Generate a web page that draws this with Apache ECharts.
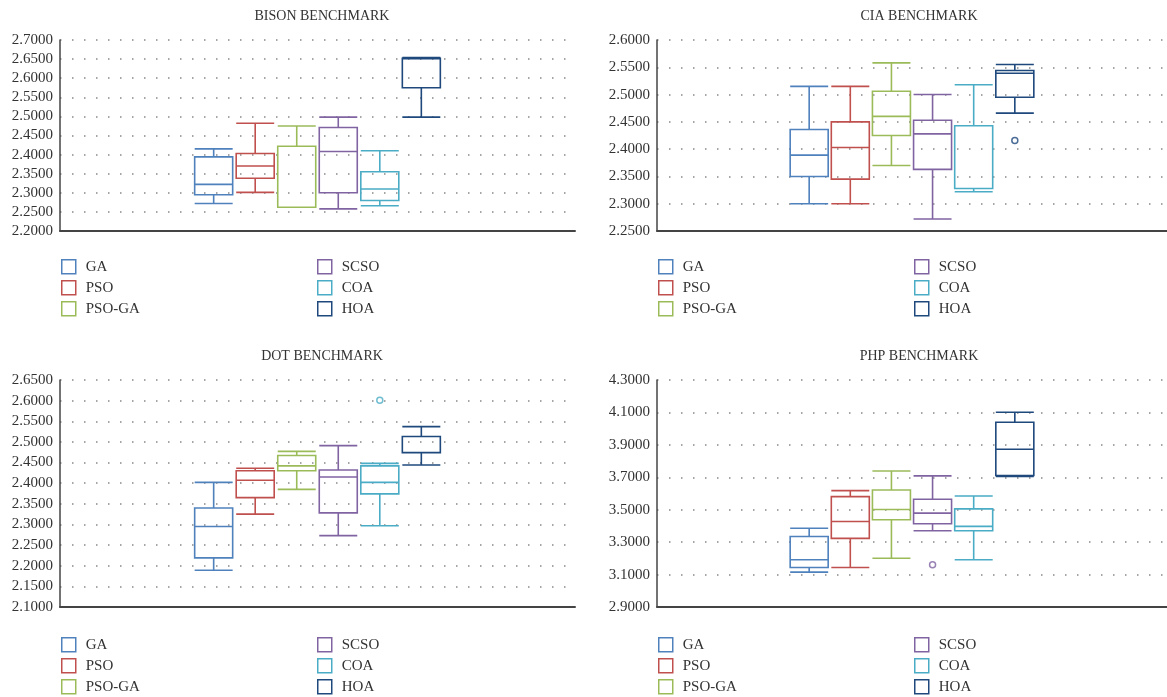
<!DOCTYPE html>
<html>
<head>
<meta charset="utf-8">
<title>Benchmark boxplots</title>
<script src="https://cdn.jsdelivr.net/npm/echarts@6.0.0/dist/echarts.min.js"></script>
<style>
  html, body { margin: 0; padding: 0; background: #fff; }
  #main { width: 1167px; height: 697px; }
</style>
</head>
<body>
<div id="main"></div>
<script>
var algorithms = ['GA', 'PSO', 'PSO-GA', 'SCSO', 'COA', 'HOA']

// each row: [min, Q1, median, Q3, max], in the order of algorithms
var bison = [
  [2.272, 2.295, 2.322, 2.394, 2.415],
  [2.301, 2.338, 2.370, 2.403, 2.482],
  [2.262, 2.262, 2.262, 2.422, 2.475],
  [2.258, 2.300, 2.408, 2.471, 2.498],
  [2.266, 2.280, 2.310, 2.355, 2.410],
  [2.498, 2.575, 2.651, 2.652, 2.654]
]
var bisonOutliers = []
var bisonTicks = [2.2, 2.7, 0.05]

var cia = [
  [2.300, 2.350, 2.389, 2.436, 2.515],
  [2.300, 2.345, 2.403, 2.450, 2.515],
  [2.370, 2.425, 2.460, 2.506, 2.558],
  [2.272, 2.363, 2.428, 2.453, 2.500],
  [2.322, 2.328, 2.328, 2.443, 2.518],
  [2.466, 2.495, 2.539, 2.544, 2.555]
]
var ciaOutliers = [['HOA', 2.416]]
var ciaTicks = [2.25, 2.6, 0.05]

var dot = [
  [2.189, 2.219, 2.295, 2.340, 2.402],
  [2.325, 2.365, 2.407, 2.430, 2.436],
  [2.385, 2.430, 2.442, 2.467, 2.477],
  [2.273, 2.328, 2.415, 2.432, 2.491],
  [2.297, 2.374, 2.402, 2.442, 2.448],
  [2.444, 2.474, 2.513, 2.513, 2.537]
]
var dotOutliers = [['COA', 2.601]]
var dotTicks = [2.1, 2.65, 0.05]

var php = [
  [3.115, 3.144, 3.191, 3.335, 3.386],
  [3.144, 3.323, 3.427, 3.581, 3.618],
  [3.201, 3.438, 3.501, 3.622, 3.739],
  [3.370, 3.413, 3.479, 3.565, 3.709],
  [3.191, 3.370, 3.397, 3.505, 3.585],
  [3.705, 3.711, 3.873, 4.039, 4.101]
]
var phpOutliers = [['SCSO', 3.160]]
var phpTicks = [2.9, 4.3, 0.2]

var colors = ['#4f81bd', '#c0504d', '#9bbb59', '#8064a2', '#4bacc6', '#1f497d']
var font = 'Liberation Serif'

var panels = [
  { title: 'BISON BENCHMARK', boxes: bison, outliers: bisonOutliers, ticks: bisonTicks, left: 60, top: 40, height: 191, legendTop: 259 },
  { title: 'CIA BENCHMARK', boxes: cia, outliers: ciaOutliers, ticks: ciaTicks, left: 657, top: 40, height: 191, legendTop: 259 },
  { title: 'DOT BENCHMARK', boxes: dot, outliers: dotOutliers, ticks: dotTicks, left: 60, top: 380, height: 227, legendTop: 637 },
  { title: 'PHP BENCHMARK', boxes: php, outliers: phpOutliers, ticks: phpTicks, left: 657, top: 380, height: 227, legendTop: 637 }
]

var option = {
  animation: false,
  backgroundColor: '#fff',
  title: [],
  grid: [],
  xAxis: [],
  yAxis: [],
  legend: [],
  series: []
}

panels.forEach(function(p, k) {
  option.title.push({
    text: p.title,
    left: p.left + 257,
    top: p.top - 36,
    textAlign: 'center',
    textStyle: { fontFamily: font, fontSize: 14, fontWeight: 'normal', color: '#333' }
  })
  option.grid.push({ left: p.left, top: p.top, width: 515, height: p.height })
  // boxes sit at x = 1..6, the axis range leaves empty room on both sides
  option.xAxis.push({
    type: 'value',
    gridIndex: k,
    min: -2.7,
    max: 9.7,
    axisLine: { show: true, onZero: false, lineStyle: { color: '#444', width: 2 } },
    axisTick: { show: false },
    axisLabel: { show: false },
    splitLine: { show: false }
  })
  option.yAxis.push({
    type: 'value',
    gridIndex: k,
    min: p.ticks[0],
    max: p.ticks[1],
    interval: p.ticks[2],
    axisLine: { show: true, onZero: false, lineStyle: { color: '#444', width: 1.5 } },
    axisTick: { show: false },
    axisLabel: {
      fontFamily: font,
      fontSize: 15,
      color: '#333',
      margin: 7,
      formatter: function(v) { return v.toFixed(4) }
    },
    splitLine: { lineStyle: { color: '#888', width: 1.5, type: [1.5, 10.5] } }
  })
  option.series.push({
    type: 'boxplot',
    name: p.title,
    xAxisIndex: k,
    yAxisIndex: k,
    boxWidth: [38, 38],
    emphasis: { disabled: true },
    itemStyle: { color: 'rgba(0,0,0,0)', borderWidth: 1.6 },
    data: p.boxes.map(function(b, i) {
      return { value: [i + 1].concat(b), itemStyle: { borderColor: colors[i] } }
    })
  })
  option.series.push({
    type: 'scatter',
    name: p.title + ' outliers',
    xAxisIndex: k,
    yAxisIndex: k,
    symbol: 'circle',
    symbolSize: 6,
    data: p.outliers.map(function(o) {
      var i = algorithms.indexOf(o[0])
      return { value: [i + 1, o[1]], itemStyle: { color: '#fff', borderColor: colors[i], borderWidth: 1.5 } }
    })
  })
  ;[0, 3].forEach(function(start, c) {
    option.legend.push({
      orient: 'vertical',
      left: p.left + 1 + c * 256,
      top: p.legendTop,
      height: 80,
      padding: 0,
      itemWidth: 14,
      itemHeight: 14,
      itemGap: 5.5,
      selectedMode: false,
      icon: 'rect',
      textStyle: { fontFamily: font, fontSize: 15, lineHeight: 14, color: '#333', padding: [0, 0, 0, 5] },
      data: algorithms.slice(start, start + 3).map(function(name, i) {
        return { name: name, itemStyle: { color: '#fff', borderColor: colors[start + i], borderWidth: 1.5 } }
      })
    })
  })
})

// empty series only give the legends their names and colours
algorithms.forEach(function(name, i) {
  option.series.push({ type: 'line', name: name, color: colors[i], xAxisIndex: 0, yAxisIndex: 0, data: [] })
})

var chart = echarts.init(document.getElementById('main'))
chart.setOption(option)
</script>
</body>
</html>
